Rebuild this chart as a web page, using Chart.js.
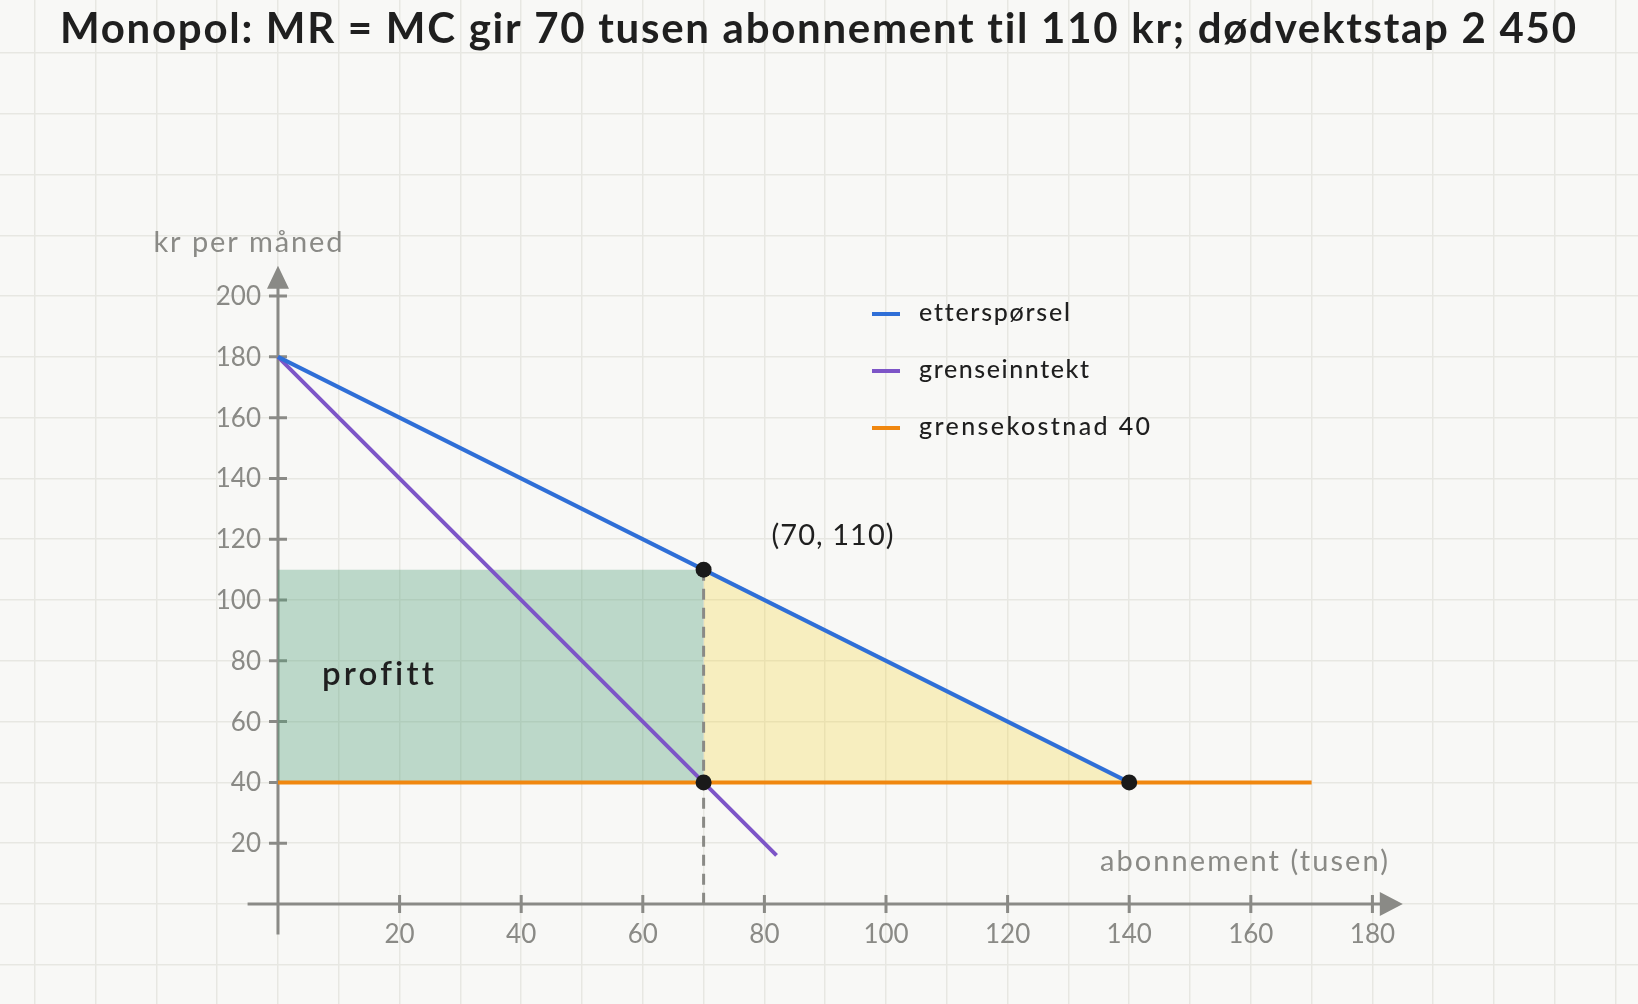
<!DOCTYPE html>
<html>
<head>
<meta charset="utf-8">
<script src="https://cdn.jsdelivr.net/npm/chart.js@4.4.1/dist/chart.umd.min.js"></script>
<style>
  html, body { margin: 0; padding: 0; background: #f8f8f6; overflow: hidden; }
  canvas { display: block; }
</style>
</head>
<body>
<canvas id="chart" width="1638" height="1004"></canvas>
<script>
// --- data ---
const title = 'Monopol: MR = MC gir 70 tusen abonnement til 110 kr; dødvektstap 2 450';
const xAxisTitle = 'abonnement (tusen)';
const yAxisTitle = 'kr per måned';

const xTicks = [20, 40, 60, 80, 100, 120, 140, 160, 180];
const yTicks = [20, 40, 60, 80, 100, 120, 140, 160, 180, 200];

// demand, marginal revenue, marginal cost
const demandX = [0, 140];
const demandY = [180, 40];
const mrX = [0, 82];
const mrY = [180, 16];
const mcX = [0, 170];
const mcY = [40, 40];

// shaded areas: top edge, filled down to the MC level
const mcLevel = 40;
const profitX = [0, 70];
const profitY = [110, 110];
const dwlX = [70, 140];
const dwlY = [110, 40];

// dashed drop line at monopoly quantity
const dropX = [70, 70];
const dropY = [110, 0];

// marked points
const dotX = [70, 70, 140];
const dotY = [110, 40, 40];

const seriesLabels = ['etterspørsel', 'grenseinntekt', 'grensekostnad 40'];
const pointLabel = '(70, 110)';
const areaLabel = 'profitt';

// --- styling ---
const FONT = 'Lato, "Noto Sans", sans-serif';
const INK = '#1f1f1f';
const AXIS = '#8a8a86';
const BLUE = '#2f6fd7';
const PURPLE = '#7d55c7';
const ORANGE = '#f0870f';

const pts = (xs, ys) => xs.map((x, i) => ({ x: x, y: ys[i] }));

// text with letter spacing stretched to a target width
function drawText(ctx, s, x, y, font, color, align, width) {
  ctx.save();
  ctx.font = font;
  ctx.fillStyle = color;
  ctx.textBaseline = 'alphabetic';
  ctx.textAlign = 'left';
  let w = ctx.measureText(s).width;
  if (width) {
    const ls = (width - w) / Math.max(1, s.length - 1);
    ctx.letterSpacing = ls.toFixed(2) + 'px';
    w = width;
  }
  let left = x;
  if (align === 'center') left = x - w / 2;
  if (align === 'right') left = x - w;
  ctx.fillText(s, left, y);
  ctx.restore();
}

const paper = {
  id: 'paper',
  beforeDraw(chart) {
    const ctx = chart.ctx;
    ctx.save();
    ctx.fillStyle = '#f8f8f6';
    ctx.fillRect(0, 0, chart.width, chart.height);
    ctx.restore();
  }
};

const axes = {
  id: 'axes',
  beforeDatasetsDraw(chart) {
    const ctx = chart.ctx;
    const xs = chart.scales.x, ys = chart.scales.y;
    const x0 = xs.getPixelForValue(0), y0 = ys.getPixelForValue(0);
    const xEnd = xs.getPixelForValue(185), yEnd = ys.getPixelForValue(210);
    ctx.save();
    ctx.strokeStyle = AXIS;
    ctx.fillStyle = AXIS;
    ctx.lineWidth = 3;
    ctx.beginPath();
    ctx.moveTo(xs.getPixelForValue(-5), y0);
    ctx.lineTo(xEnd - 20, y0);
    ctx.moveTo(x0, ys.getPixelForValue(-10));
    ctx.lineTo(x0, yEnd + 20);
    xTicks.forEach(v => {
      const px = xs.getPixelForValue(v);
      ctx.moveTo(px, y0 - 9); ctx.lineTo(px, y0 + 9);
    });
    yTicks.forEach(v => {
      const py = ys.getPixelForValue(v);
      ctx.moveTo(x0 - 9, py); ctx.lineTo(x0 + 9, py);
    });
    ctx.stroke();
    // arrow heads
    ctx.beginPath();
    ctx.moveTo(xEnd, y0);
    ctx.lineTo(xEnd - 23, y0 - 12);
    ctx.lineTo(xEnd - 23, y0 + 12);
    ctx.closePath();
    ctx.moveTo(x0, yEnd);
    ctx.lineTo(x0 - 11, yEnd + 23);
    ctx.lineTo(x0 + 11, yEnd + 23);
    ctx.closePath();
    ctx.fill();
    ctx.restore();

    xTicks.forEach(v => {
      drawText(ctx, String(v), xs.getPixelForValue(v), y0 + 39, '26px ' + FONT, AXIS, 'center');
    });
    yTicks.forEach(v => {
      drawText(ctx, String(v), x0 - 17, ys.getPixelForValue(v) + 9, '26px ' + FONT, AXIS, 'right');
    });
  },
  afterDraw(chart) {
    const ctx = chart.ctx;
    drawText(ctx, title, 818.5, 43, 'bold 42px ' + FONT, INK, 'center', 1517);
    drawText(ctx, yAxisTitle, 248, 252, '29px ' + FONT, AXIS, 'center', 189);
    drawText(ctx, xAxisTitle, 1388, 871, '29px ' + FONT, AXIS, 'right', 288);
    drawText(ctx, pointLabel, 832.5, 545, '29px ' + FONT, INK, 'center', 122);
    drawText(ctx, areaLabel, 322, 685, '600 33px ' + FONT, INK, 'left', 110);

    // legend
    const rows = [314, 371, 428];
    const colors = [BLUE, PURPLE, ORANGE];
    ctx.save();
    ctx.lineWidth = 4;
    rows.forEach((ry, i) => {
      ctx.strokeStyle = colors[i];
      ctx.beginPath();
      ctx.moveTo(872, ry); ctx.lineTo(900, ry);
      ctx.stroke();
    });
    ctx.restore();
    const legendW = [150, 170, 231];
    rows.forEach((ry, i) => {
      drawText(ctx, seriesLabels[i], 919, ry + 7, '500 25px ' + FONT, INK, 'left', legendW[i]);
    });
  }
};

const line = (data, color, order, extra) => Object.assign({
  data: data,
  showLine: true,
  borderColor: color,
  borderWidth: 4,
  pointRadius: 0,
  pointHoverRadius: 0,
  fill: false,
  order: order
}, extra || {});

new Chart(document.getElementById('chart'), {
  type: 'scatter',
  data: {
    datasets: [
      line(pts(dotX, dotY), INK, 0, { showLine: false, pointRadius: 8, pointBackgroundColor: '#1a1a1a', pointBorderWidth: 0 }),
      line(pts(demandX, demandY), BLUE, 1, { label: seriesLabels[0] }),
      line(pts(mrX, mrY), PURPLE, 2, { label: seriesLabels[1] }),
      line(pts(mcX, mcY), ORANGE, 3, { label: seriesLabels[2] }),
      line(pts(dropX, dropY), AXIS, 4, { borderWidth: 3, borderDash: [11, 8] }),
      line(pts(profitX, profitY), 'rgba(0,0,0,0)', 5, { borderWidth: 0, fill: { value: mcLevel }, backgroundColor: 'rgba(77,157,117,0.35)' }),
      line(pts(dwlX, dwlY), 'rgba(0,0,0,0)', 5, { borderWidth: 0, fill: { value: mcLevel }, backgroundColor: 'rgba(244,212,46,0.27)' })
    ]
  },
  options: {
    responsive: false,
    animation: false,
    devicePixelRatio: 1,
    layout: { padding: 0, autoPadding: false },
    plugins: {
      legend: { display: false },
      tooltip: { enabled: false }
    },
    scales: {
      x: {
        type: 'linear',
        min: -45.72,
        max: 223.68,
        ticks: { display: false, stepSize: 10, includeBounds: false },
        grid: { color: '#e7e7e2', lineWidth: 1.5, drawTicks: false },
        border: { display: false }
      },
      y: {
        type: 'linear',
        min: -32.9,
        max: 297.4,
        ticks: { display: false, stepSize: 20, includeBounds: false },
        grid: { color: '#e7e7e2', lineWidth: 1.5, drawTicks: false },
        border: { display: false }
      }
    }
  },
  plugins: [paper, axes]
});
</script>
</body>
</html>
